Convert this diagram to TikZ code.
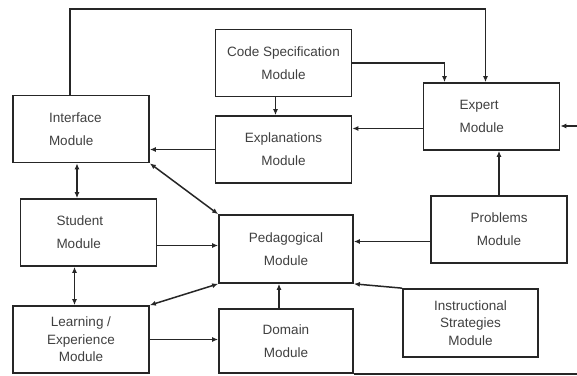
\documentclass[tikz,border=0pt]{standalone}
\usepackage{fontspec}
\setmainfont{Liberation Sans}
\usetikzlibrary{arrows.meta}

\tikzset{
  module/.style={draw=black!85, line width=1.7pt, minimum width=136pt, minimum height=67pt,
    inner sep=0pt, align=center, text=black!75, font=\fontsize{13.5}{23}\selectfont},
  leftmod/.style={module, text width=64pt, align=left},
  tight/.style={font=\fontsize{13.5}{17.5}\selectfont},
  link/.style={draw=black!85, line width=1.5pt, -{Latex[length=6pt,width=5pt]}},
  bilink/.style={link, {Latex[length=6pt,width=5pt]}-{Latex[length=6pt,width=5pt]}}
}

\begin{document}
\begin{tikzpicture}[x=1pt,y=-1pt]
\useasboundingbox[fill=white] (0,0) rectangle (577,375);
\clip (0,0) rectangle (577,375);
\node[leftmod] (iface) at (81,129) {Interface\\Module};
\node[module] (codespec) at (283.5,63) {Code Specification\\Module};
\node[module] (explain) at (283.5,149.5) {Explanations\\Module};
\node[leftmod] (expert) at (491.5,116.5) {Expert\\Module};
\node[leftmod] (student) at (88.5,232.5) {Student\\Module};
\node[module, minimum width=134pt, minimum height=68pt] (pedag) at (286,249) {Pedagogical\\Module};
\node[module] (problems) at (499,229.5) {Problems\\Module};
\node[module, tight, minimum width=135pt, minimum height=68pt] (instr) at (470.5,323) {Instructional\\Strategies\\Module};
\node[module, tight] (learning) at (81,339.5) {Learning /\\Experience\\Module};
\node[module, minimum width=134pt, minimum height=64pt] (domain) at (286,341) {Domain\\Module};
\coordinate (topline) at (0,9);
\coordinate (farright) at (590,126);

\draw[link] ([xshift=-11pt]iface.north) |- ([xshift=-6pt]expert.north |- topline) -- ([xshift=-6pt]expert.north);
\draw[link] (codespec.east) -| ([xshift=-47pt]expert.north);
\draw[link] ([xshift=-8pt]codespec.south) -- ([xshift=-8pt]explain.north);
\draw[link] ([yshift=-12pt]expert.west) -- ([yshift=-12pt]expert.west -| explain.east);
\draw[link] (domain.south east) -- (domain.south east -| farright) -- (farright) -- (farright -| expert.east);
\draw[link] (explain.west) -- (explain.west -| iface.east);
\draw[link] (problems.north) -- (problems.north |- expert.south);
\draw[link] ([yshift=-12pt]problems.west) -- ([yshift=-12pt]problems.west -| pedag.east);
\draw[link] (instr.north west) -- (pedag.south east);
\draw[link] ([xshift=-7pt]domain.north) -- ([xshift=-7pt]pedag.south);
\draw[bilink] ([xshift=-4pt]iface.south) -- ([xshift=-4pt]iface.south |- student.north);
\draw[bilink] ([xshift=-14pt]student.south) -- ([xshift=-14pt]student.south |- learning.north);
\draw[link] ([yshift=-13pt]student.east) -- ([yshift=-13pt]student.east -| pedag.west);
\draw[link] (learning.east) -- (learning.east -| domain.west);
\draw[bilink] (learning.north east) -- (pedag.south west);
\draw[bilink] (iface.south east) -- (pedag.north west);
\end{tikzpicture}
\end{document}
